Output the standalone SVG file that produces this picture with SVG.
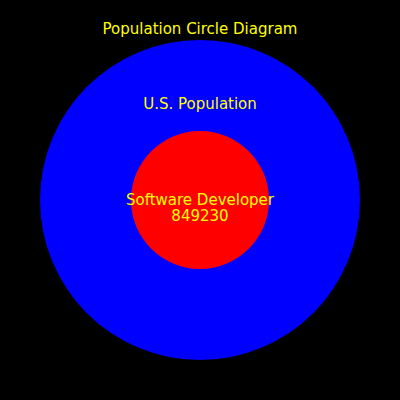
<svg xmlns="http://www.w3.org/2000/svg" width="400" height="400" viewBox="0 0 400 400">
<style>
text{font-family:"DejaVu Sans",sans-serif;font-size:15px;fill:#ffff00;text-anchor:middle}
</style>
<rect width="400" height="400" fill="#000"/>
<text x="200" y="34">Population Circle Diagram</text>
<g id="us-population">
<circle cx="200" cy="200" r="160" fill="#0000ff"/>
<text x="200" y="109">U.S. Population</text>
</g>
<g id="software-developer">
<circle cx="200" cy="200" r="69" fill="#ff0000"/>
<text x="200" y="205">Software Developer</text>
<text x="200" y="221">849230</text>
</g>
<g id="connectors"/>
</svg>
